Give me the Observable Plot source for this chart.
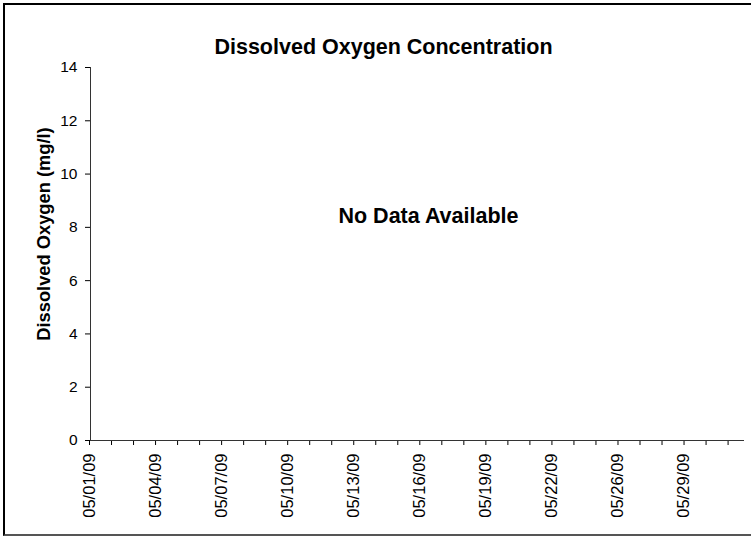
<!DOCTYPE html>
<html><head><meta charset="utf-8">
<script src="https://cdn.jsdelivr.net/npm/d3@7"></script>
<script src="https://cdn.jsdelivr.net/npm/@observablehq/plot@0.6"></script>
<style>
html,body{margin:0;padding:0;background:#fff;overflow:hidden;width:751px;height:538px}
#wrap{position:relative;width:751px;height:538px;overflow:hidden}
#frame{position:absolute;left:3px;top:3px;width:800px;height:529px;border:2px solid #000;border-bottom-color:#555;box-sizing:content-box}
#wrap svg{position:absolute;left:0;top:0}
</style></head><body><div id="wrap"><div id="frame"></div></div>
<script>
const title = "Dissolved Oxygen Concentration";
const yLabel = "Dissolved Oxygen (mg/l)";
const message = "No Data Available";
const dates = ["05/01/09","05/02/09","05/03/09","05/04/09","05/05/09","05/06/09","05/07/09","05/08/09","05/09/09","05/10/09",
  "05/11/09","05/12/09","05/13/09","05/14/09","05/15/09","05/16/09","05/17/09","05/18/09","05/19/09","05/20/09",
  "05/21/09","05/22/09","05/23/09","05/24/09","05/26/09","05/27/09","05/28/09","05/29/09","05/30/09","05/31/09"];
const labelStep = 3;
const yTicks = [0, 2, 4, 6, 8, 10, 12, 14];
const doValues = []; // no measurements available

const font = "'Liberation Sans', Arial, sans-serif";
const chart = Plot.plot({
  width: 751, height: 538,
  marginLeft: 90, marginRight: 7, marginTop: 67, marginBottom: 98,
  style: {fontFamily: font, fontSize: "15.5px", background: "transparent", color: "#000", overflow: "visible"},
  x: {type: "linear", domain: [0, dates.length - 0.3], axis: null},
  y: {domain: [0, 14], axis: null},
  marks: [
    Plot.axisY({ticks: yTicks, tickSize: 5, tickPadding: 8, label: null, tickFormat: d => String(d), stroke: "#000", fontSize: 15.5}),
    Plot.axisX({ticks: d3.range(dates.length), tickSize: 5, tickPadding: 8, tickRotate: -90, label: null,
      tickFormat: i => i % labelStep === 0 ? dates[i] : "", fontSize: 16.5, dx: -1, stroke: "#000"}),
    Plot.ruleX([0], {stroke: "#333"}),
    Plot.ruleY([0], {stroke: "#333"}),
    Plot.line(doValues, {x: "index", y: "value", stroke: "#000"}),
    Plot.text([title], {frameAnchor: "top", dx: -34, dy: -29, fontSize: 21.5, fontWeight: "bold"}),
    Plot.text([message], {frameAnchor: "middle", dx: 11, dy: -38, fontSize: 21.5, fontWeight: "bold"}),
    Plot.text([yLabel], {frameAnchor: "left", textAnchor: "middle", dx: -46, dy: -20, rotate: -90, fontSize: 18.3, fontWeight: "bold"})
  ]
});
document.getElementById("wrap").appendChild(chart);
</script>
</body></html>
